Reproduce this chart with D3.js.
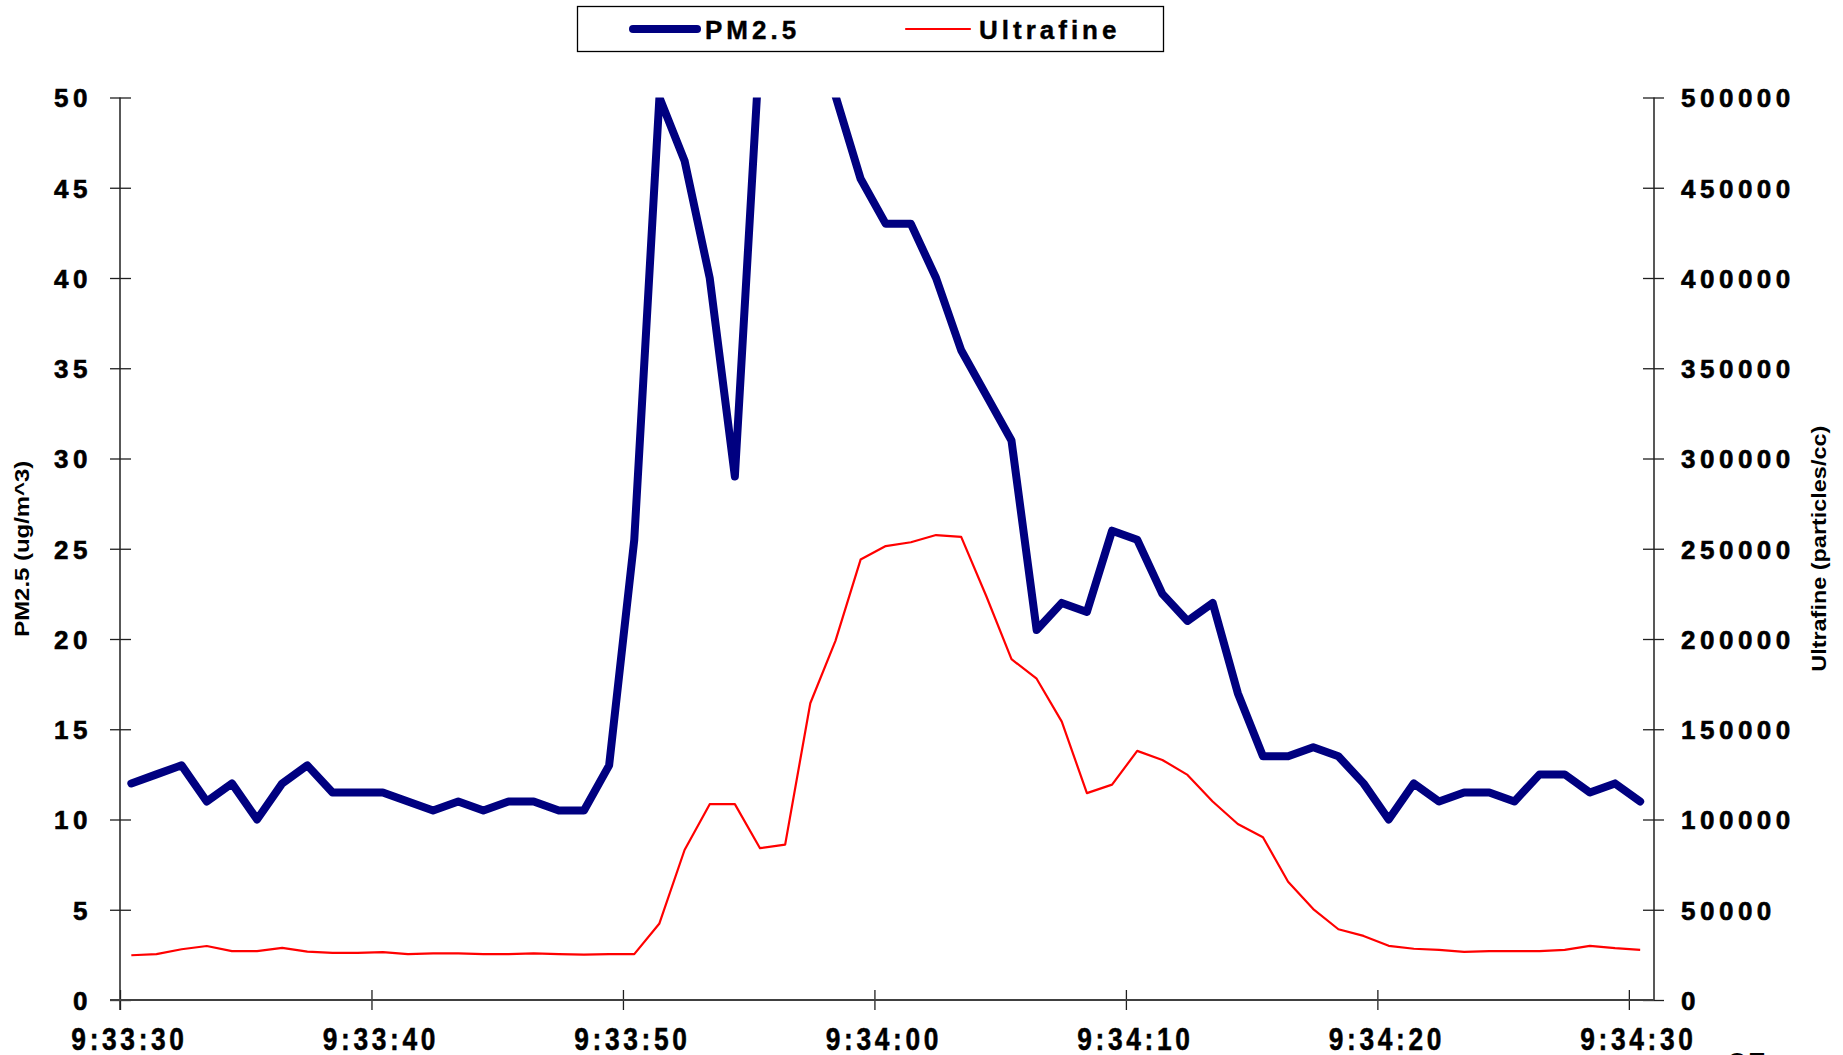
<!DOCTYPE html>
<html>
<head>
<meta charset="utf-8">
<script src="https://cdn.jsdelivr.net/npm/d3@7"></script>
<style>
  html, body { margin: 0; padding: 0; background: #ffffff; }
  svg { display: block; }
  .tick text { fill: #000; }
</style>
</head>
<body>
<svg id="chart" width="1843" height="1055"></svg>
<script>
// ---- data -------------------------------------------------------------
// one reading per second, logged at .45 s past each whole second
const firstSample = "09:33:30.450";
const sampleStepSeconds = 1;

// PM2.5 (ug/m^3)
const pm25 = [
  12, 12.5, 13, 11, 12, 10, 12, 13, 11.5, 11.5,
  11.5, 11, 10.5, 11, 10.5, 11, 11, 10.5, 10.5, 13,
  25.5, 50, 46.5, 40, 29, 53, 62, 58, 50.1, 45.5,
  43, 43, 40, 36, 33.5, 31, 20.5, 22, 21.5, 26,
  25.5, 22.5, 21, 22, 17, 13.5, 13.5, 14, 13.5, 12,
  10, 12, 11, 11.5, 11.5, 11, 12.5, 12.5, 11.5, 12,
  11
];

// Ultrafine particle count (particles/cc)
const ultrafine = [
  24800, 25400, 28100, 29900, 27100, 27100, 28900, 26800, 26100, 26100,
  26500, 25400, 25800, 25800, 25400, 25400, 25800, 25400, 25100, 25400,
  25400, 42400, 83100, 108500, 108500, 84100, 86100, 164400, 199000, 244000,
  251500, 253600, 257600, 256600, 223700, 188800, 178000, 154200, 114600, 119300,
  138000, 133000, 124700, 110000, 97500, 90200, 65500, 50400, 39200, 35500,
  30000, 28400, 27800, 26700, 27100, 27100, 27100, 27800, 30000, 28700,
  27800
];

const timeTicks = ["09:33:30", "09:33:40", "09:33:50", "09:34:00", "09:34:10", "09:34:20", "09:34:30"];
const timeDomain = ["09:33:30", "09:34:31"];
const pmTicks = [0, 5, 10, 15, 20, 25, 30, 35, 40, 45, 50];
const ufTicks = [0, 50000, 100000, 150000, 200000, 250000, 300000, 350000, 400000, 450000, 500000];

const seriesNames = ["PM2.5", "Ultrafine"];
const axisTitles = ["PM2.5 (ug/m^3)", "Ultrafine (particles/cc)"];
const pageNumber = "25";

// ---- layout -----------------------------------------------------------
const plot = { left: 120, right: 1654, top: 97.5, bottom: 1000 };
const navy = "#000080", red = "#ff0000";

const parseT = d3.timeParse("%H:%M:%S");
const parseMs = d3.timeParse("%H:%M:%S.%L");
const t0 = parseMs(firstSample);
const times = pm25.map((_, i) => new Date(t0.getTime() + i * sampleStepSeconds * 1000));

const x = d3.scaleTime().domain(timeDomain.map(parseT)).range([plot.left, plot.right]);
const yL = d3.scaleLinear().domain([0, 50]).range([plot.bottom, plot.top]);
const yR = d3.scaleLinear().domain([0, 500000]).range([plot.bottom, plot.top]);

const svg = d3.select("#chart");
const fmtTime = d3.timeFormat("%-H:%M:%S");

svg.append("defs").append("clipPath").attr("id", "plotClip")
  .append("rect")
  .attr("x", plot.left).attr("y", plot.top)
  .attr("width", plot.right - plot.left).attr("height", plot.bottom - plot.top);

const axisColor = "#202020";
const tickFont = "'Liberation Sans', Arial, sans-serif";

// left axis
const gL = svg.append("g").attr("transform", `translate(${plot.left},0)`)
  .call(d3.axisLeft(yL).tickValues(pmTicks).tickSize(10).tickPadding(18).tickFormat(d3.format("d")));
gL.select(".domain").remove();
gL.selectAll(".tick line").attr("x1", 11).attr("x2", -10).attr("stroke", axisColor).attr("stroke-width", 1.3);
gL.selectAll(".tick text")
  .style("font-family", tickFont).style("font-weight", "bold").style("font-size", "26px")
  .style("letter-spacing", "4.5px").attr("dy", "0.36em")
  .attr("stroke", "#000").attr("stroke-width", 0.6);

// right axis
const gR = svg.append("g").attr("transform", `translate(${plot.right},0)`)
  .call(d3.axisRight(yR).tickValues(ufTicks).tickSize(10).tickPadding(17).tickFormat(d3.format("d")));
gR.select(".domain").remove();
gR.selectAll(".tick line").attr("x1", -11).attr("x2", 10).attr("stroke", axisColor).attr("stroke-width", 1.3);
gR.selectAll(".tick text")
  .style("font-family", tickFont).style("font-weight", "bold").style("font-size", "26px")
  .style("letter-spacing", "4.5px").attr("dy", "0.36em")
  .attr("stroke", "#000").attr("stroke-width", 0.6);

// bottom axis (narrow, tracked labels)
const gB = svg.append("g").attr("transform", `translate(0,${plot.bottom})`)
  .call(d3.axisBottom(x).tickValues(timeTicks.map(parseT)).tickSize(10).tickPadding(17.5).tickFormat(fmtTime));
gB.select(".domain").remove();
gB.selectAll(".tick line").attr("y1", -10).attr("y2", 10).attr("stroke", axisColor).attr("stroke-width", 1.3);
gB.selectAll(".tick text")
  .style("font-family", tickFont).style("font-weight", "bold").style("font-size", "31px")
  .style("letter-spacing", "4.3px").attr("dy", "0.71em")
  .attr("stroke", "#000").attr("stroke-width", 0.5)
  .each(function () {
    const t = d3.select(this);
    const yy = +t.attr("y");
    t.attr("y", null).attr("transform", `translate(9,${yy}) scale(0.85,1)`);
  });

// axis lines
svg.append("line").attr("x1", plot.left).attr("x2", plot.left)
  .attr("y1", plot.top).attr("y2", plot.bottom + 10)
  .attr("stroke", axisColor).attr("stroke-width", 1.5);
svg.append("line").attr("x1", plot.right).attr("x2", plot.right)
  .attr("y1", plot.top).attr("y2", plot.bottom)
  .attr("stroke", axisColor).attr("stroke-width", 1.5);
svg.append("line").attr("x1", plot.left - 10).attr("x2", plot.right)
  .attr("y1", plot.bottom).attr("y2", plot.bottom)
  .attr("stroke", "#404040").attr("stroke-width", 2);

// series lines
const plotG = svg.append("g").attr("clip-path", "url(#plotClip)");

const ufLine = d3.line().x((d, i) => x(times[i])).y(d => yR(d));
plotG.append("path").datum(ultrafine)
  .attr("d", ufLine).attr("fill", "none")
  .attr("stroke", red).attr("stroke-width", 2.2).attr("stroke-linejoin", "round");

const pmLine = d3.line().x((d, i) => x(times[i])).y(d => yL(d));
plotG.append("path").datum(pm25)
  .attr("d", pmLine).attr("fill", "none")
  .attr("stroke", navy).attr("stroke-width", 8).attr("stroke-linejoin", "round").attr("stroke-linecap", "round");

// axis titles
svg.append("text")
  .attr("transform", `translate(29,${(plot.top + plot.bottom) / 2}) rotate(-90)`)
  .attr("text-anchor", "middle")
  .attr("textLength", 176).attr("lengthAdjust", "spacingAndGlyphs")
  .style("font-family", tickFont).style("font-weight", "bold").style("font-size", "20px")
  .text(axisTitles[0]);
svg.append("text")
  .attr("transform", `translate(1826,${(plot.top + plot.bottom) / 2}) rotate(-90)`)
  .attr("text-anchor", "middle")
  .attr("textLength", 246).attr("lengthAdjust", "spacingAndGlyphs")
  .style("font-family", tickFont).style("font-weight", "bold").style("font-size", "20px")
  .text(axisTitles[1]);

// legend
const lg = svg.append("g");
lg.append("rect").attr("x", 577.5).attr("y", 6.5).attr("width", 586).attr("height", 45)
  .attr("fill", "#fff").attr("stroke", "#000").attr("stroke-width", 1.3);
const legendItems = [
  { name: seriesNames[0], color: navy, width: 8, x1: 633, x2: 697, tx: 705 },
  { name: seriesNames[1], color: red, width: 2.2, x1: 906, x2: 970, tx: 979 }
];
legendItems.forEach(it => {
  lg.append("line").attr("x1", it.x1).attr("x2", it.x2).attr("y1", 29).attr("y2", 29)
    .attr("stroke", it.color).attr("stroke-width", it.width).attr("stroke-linecap", "round");
  lg.append("text").attr("x", it.tx).attr("y", 38.5)
    .style("font-family", tickFont).style("font-weight", "bold").style("font-size", "26px")
    .style("letter-spacing", "4px")
    .attr("stroke", "#000").attr("stroke-width", 0.4)
    .text(it.name);
});

// page number peeking in at the bottom edge
svg.append("text").attr("x", 1727).attr("y", 1079)
  .style("font-family", tickFont).style("font-size", "36px").text(pageNumber);
</script>
</body>
</html>
